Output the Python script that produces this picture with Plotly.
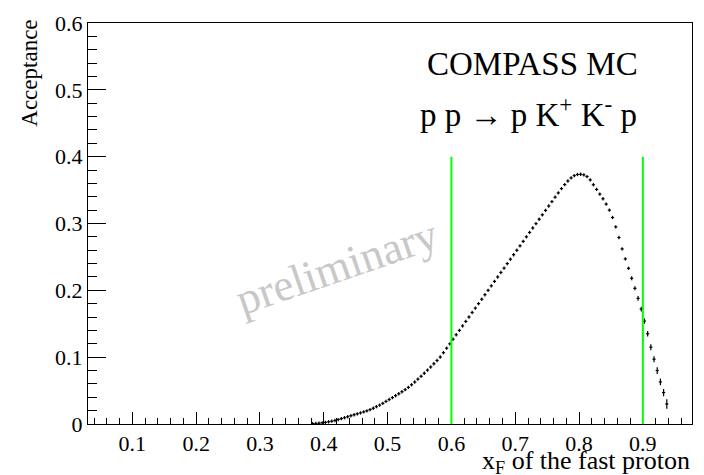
import numpy as np
import plotly.graph_objects as go

# ---- data ----
bin_first_center = 0.3825
bin_width = 0.005
acceptance = [
    0.0005, 0.0008, 0.0012, 0.0018, 0.0025, 0.0033, 0.0042, 0.0053, 0.0066, 0.0080,
    0.0094, 0.0109, 0.0124, 0.0138, 0.0152, 0.0166, 0.0181, 0.0196, 0.0215, 0.0236,
    0.0259, 0.0283, 0.0309, 0.0338, 0.0366, 0.0395, 0.0424, 0.0453, 0.0483, 0.0514,
    0.0548, 0.0587, 0.0628, 0.0671, 0.0714, 0.0759, 0.0806, 0.0853, 0.0901, 0.0950,
    0.1002, 0.1067, 0.1135, 0.1200, 0.1268, 0.1335, 0.1401, 0.1468, 0.1535, 0.1601,
    0.1668, 0.1734, 0.1801, 0.1867, 0.1934, 0.2000, 0.2067, 0.2134, 0.2200, 0.2267,
    0.2333, 0.2400, 0.2466, 0.2533, 0.2600, 0.2666, 0.2733, 0.2800, 0.2866, 0.2933,
    0.2998, 0.3064, 0.3130, 0.3196, 0.3262, 0.3328, 0.3394, 0.3458, 0.3522, 0.3582,
    0.3636, 0.3682, 0.3716, 0.3733, 0.3737, 0.3728, 0.3702, 0.3652, 0.3580, 0.3510,
    0.3440, 0.3370, 0.3290, 0.3200, 0.3090, 0.2950, 0.2790, 0.2620, 0.2470, 0.2330,
    0.2180, 0.2030, 0.1880, 0.1720, 0.1540, 0.1350, 0.1150, 0.0970, 0.0800, 0.0630,
    0.0470, 0.0300,
]
acc_errors = [0.0025] * 100 + [0.003, 0.003, 0.0035, 0.0035, 0.004, 0.004,
                               0.0045, 0.0045, 0.005, 0.005, 0.0055, 0.007]
xf_centers = np.round(bin_first_center + bin_width * np.arange(len(acceptance)), 4)
cut_positions = [0.6, 0.9]
cut_height = 0.4
x_tick_vals = [0.1, 0.2, 0.3, 0.4, 0.5, 0.6, 0.7, 0.8, 0.9]
x_tick_text = ["0.1", "0.2", "0.3", "0.4", "0.5", "0.6", "0.7", "0.8", "0.9"]
y_tick_vals = [0, 0.1, 0.2, 0.3, 0.4, 0.5, 0.6]
y_tick_text = ["0", "0.1", "0.2", "0.3", "0.4", "0.5", "0.6"]

SERIF = "Liberation Serif"

fig = go.Figure()
fig.add_trace(go.Scatter(
    x=xf_centers, y=acceptance, mode="markers",
    marker=dict(size=1, color="black"),
    error_x=dict(type="constant", value=bin_width / 2, width=0, thickness=1.2, color="black"),
    error_y=dict(type="data", array=acc_errors, width=0, thickness=1.2, color="black"),
    showlegend=False, hoverinfo="x+y",
))

for xc in cut_positions:
    fig.add_shape(type="line", xref="x", yref="y", x0=xc, x1=xc, y0=0, y1=cut_height,
                  line=dict(color="#00ff00", width=2))

axis_common = dict(
    showline=True, linecolor="black", linewidth=1, mirror=True,
    showgrid=False, zeroline=False, ticks="inside", tickcolor="black",
    tickfont=dict(family=SERIF, size=22, color="black"),
)

fig.update_xaxes(range=[0.0305, 0.977], tickvals=x_tick_vals, ticktext=x_tick_text,
                 ticklen=12, tickwidth=1,
                 minor=dict(dtick=0.02, tick0=0, ticklen=6, ticks="inside", tickcolor="black"),
                 **axis_common)
fig.update_yaxes(range=[0, 0.6], tickvals=y_tick_vals, ticktext=y_tick_text,
                 ticklen=18, tickwidth=1,
                 minor=dict(dtick=0.02, tick0=0, ticklen=9, ticks="inside", tickcolor="black"),
                 **axis_common)

annotations = [
    dict(text="COMPASS MC", x=(426 - 88) / 605, y=(424 - 57) / 409, xref="paper", yref="paper",
         xanchor="left", yanchor="middle", showarrow=False,
         font=dict(family=SERIF, size=33, color="black")),
    dict(text="p p \u2192 p K<sup>+</sup> K<sup>-</sup> p", x=(419 - 88) / 605, y=(424 - 106) / 409,
         xref="paper", yref="paper", xanchor="left", yanchor="middle", showarrow=False,
         font=dict(family=SERIF, size=33, color="black")),
    dict(text="preliminary", x=(337 - 88) / 605, y=(424 - 264) / 409, xref="paper", yref="paper",
         xanchor="center", yanchor="middle", showarrow=False, textangle=-19,
         font=dict(family=SERIF, size=45, color="#c8c8c8")),
    dict(text="Acceptance", x=(30 - 88) / 605, y=(424 - 10) / 409, xref="paper", yref="paper",
         xanchor="center", yanchor="top", showarrow=False, textangle=-90,
         font=dict(family=SERIF, size=23, color="black")),
    dict(text="x<sub>F</sub> of the fast proton", x=1.0, y=0.0, xref="paper",
         yref="paper", xanchor="right", yanchor="top", yshift=-20, showarrow=False,
         font=dict(family=SERIF, size=26, color="black")),
]

fig.update_layout(
    width=704, height=475,
    margin=dict(l=88, r=11, t=15, b=51),
    paper_bgcolor="white", plot_bgcolor="white",
    annotations=annotations,
    showlegend=False,
)

fig.write_html("out.html")
